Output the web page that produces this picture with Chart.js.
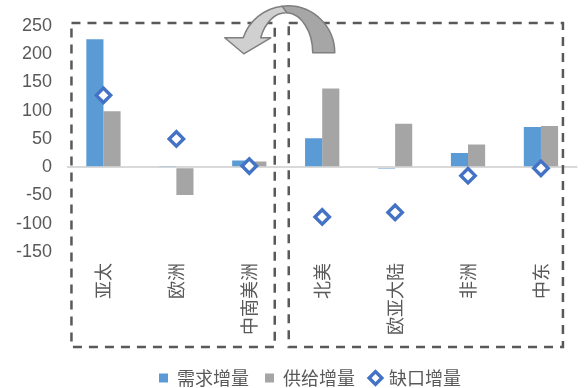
<!DOCTYPE html>
<html>
<head>
<meta charset="utf-8">
<script src="https://cdn.jsdelivr.net/npm/chart.js@4"></script>
<style>
  html, body { margin: 0; padding: 0; background: #fff; overflow: hidden; }
  #wrap { position: relative; width: 588px; height: 397px; }
</style>
</head>
<body>
<div id="wrap"><canvas id="c"></canvas></div>
<script>
// ---- data ----
const categories = ['亚太', '欧洲', '中南美洲', '北美', '欧亚大陆', '非洲', '中东'];
const demand = [226, 1, 12, 51, -3, 25, 71];     // 需求增量
const supply = [99, -49, 10, 139, 77, 40, 73];   // 供给增量
const gap = [127, 50, 2, -88, -80, -15, -2];     // 缺口增量
const seriesNames = ['需求增量', '供给增量', '缺口增量'];
const yMin = -150, yMax = 250, yStep = 50;

const GRAY_TXT = '#595959';
const CJK = "'Noto Sans CJK SC', 'Noto Sans', sans-serif";
const NUM = "'Liberation Sans', Arial, sans-serif";

// decorations: dashed group boxes + curved arrow
const decorPlugin = {
  id: 'decor',
  afterLayout(chart) {
    const L = chart.legend;
    if (L) { L.left += 16; L.right += 16; }
  },
  afterDraw(chart) {
    const ctx = chart.ctx;
    const x = chart.scales.x, y = chart.scales.y;
    const area = chart.chartArea;
    const top = y.getPixelForValue(yMax) - 2.7;
    const bottom = area.bottom + 95;
    const split = (x.getPixelForValue(2) + x.getPixelForValue(3)) / 2;
    ctx.save();
    ctx.strokeStyle = '#595959';
    ctx.lineWidth = 2.5;
    ctx.setLineDash([9, 7]);
    // group 1
    ctx.strokeRect(x.getPixelForValue(0) - 32, top, (split - 11) - (x.getPixelForValue(0) - 32), bottom - top);
    // group 2
    const l2 = split + 3;
    ctx.strokeRect(l2, top, (x.getPixelForValue(6) + 22) - l2, bottom - top);
    ctx.restore();

    // curved arrow
    const cx = split + 2, cy = y.getPixelForValue(yMax) + 27;
    const oR = 47, iRx = 27, iRy = 40, icx = cx - 2;
    const baseY = cy - 15;
    ctx.save();
    ctx.lineWidth = 1.5;
    ctx.strokeStyle = '#7f7f7f';
    ctx.lineJoin = 'round';
    // light part (left, with arrowhead)
    const aSplit = -Math.PI / 2 - 0.12;
    const aOut = -(Math.PI - Math.asin((cy - baseY) / oR));
    const aIn = -(Math.PI - Math.asin((cy - baseY) / iRy));
    ctx.beginPath();
    ctx.ellipse(cx, cy, oR, oR, 0, aSplit, aOut, true);
    ctx.lineTo(cx - 63, baseY);
    ctx.lineTo(cx - 44, baseY + 16);
    ctx.lineTo(cx - 17, baseY);
    ctx.ellipse(icx, cy, iRx, iRy, 0, aIn, -Math.PI / 2 + 0.05, false);
    ctx.closePath();
    ctx.fillStyle = '#d0d0d0';
    ctx.fill();
    ctx.stroke();
    // dark part (right leg)
    ctx.beginPath();
    ctx.ellipse(cx, cy, oR, oR, 0, 0, aSplit, true);
    ctx.ellipse(icx, cy, iRx, iRy, 0, -Math.PI / 2 + 0.05, 0, false);
    ctx.closePath();
    ctx.fillStyle = '#a6a6a6';
    ctx.fill();
    ctx.stroke();
    ctx.restore();
  }
};

new Chart(document.getElementById('c'), {
  data: {
    labels: categories,
    datasets: [
      {
        type: 'bar', label: seriesNames[0], data: demand,
        backgroundColor: '#5b9bd5', borderWidth: 0, pointStyle: 'rect',
        categoryPercentage: 0.47, barPercentage: 1.0
      },
      {
        type: 'bar', label: seriesNames[1], data: supply,
        backgroundColor: '#a5a5a5', borderWidth: 0, pointStyle: 'rect',
        categoryPercentage: 0.47, barPercentage: 1.0
      },
      {
        type: 'line', label: seriesNames[2], data: gap, order: -1,
        showLine: false, pointStyle: 'rectRot', pointRadius: 7.2, pointHoverRadius: 7.2,
        borderColor: '#4472c4', backgroundColor: '#ffffff', borderWidth: 3,
        pointBorderWidth: 3.4
      }
    ]
  },
  options: {
    responsive: true,
    maintainAspectRatio: false,
    devicePixelRatio: 1,
    animation: false,
    layout: { padding: { top: 25, left: 0, right: 0, bottom: 0 } },
    scales: {
      x: {
        type: 'category',
        offset: true,
        grid: { display: false, drawTicks: false },
        border: { display: false },
        ticks: {
          autoSkip: false, minRotation: 90, maxRotation: 90, padding: 11,
          color: GRAY_TXT, font: { family: CJK, size: 18 }
        },
        afterFit(scale) { scale.height = 101; }
      },
      y: {
        min: yMin, max: yMax,
        border: { display: false },
        grid: {
          drawTicks: false, lineWidth: 2,
          color: (c) => (c.tick && c.tick.value === 0 ? '#d9d9d9' : 'rgba(0,0,0,0)')
        },
        ticks: {
          stepSize: yStep, padding: 15, color: GRAY_TXT,
          font: { family: NUM, size: 18 }
        },
        afterFit(scale) { scale.width = 67; }
      }
    },
    plugins: {
      tooltip: { enabled: false },
      legend: {
        position: 'bottom',
        labels: {
          usePointStyle: true, boxWidth: 9, boxHeight: 9, padding: 16,
          color: GRAY_TXT, font: { family: CJK, size: 18 },
          sort: (a, b) => a.datasetIndex - b.datasetIndex
        }
      }
    }
  },
  plugins: [decorPlugin]
});
</script>
</body>
</html>
